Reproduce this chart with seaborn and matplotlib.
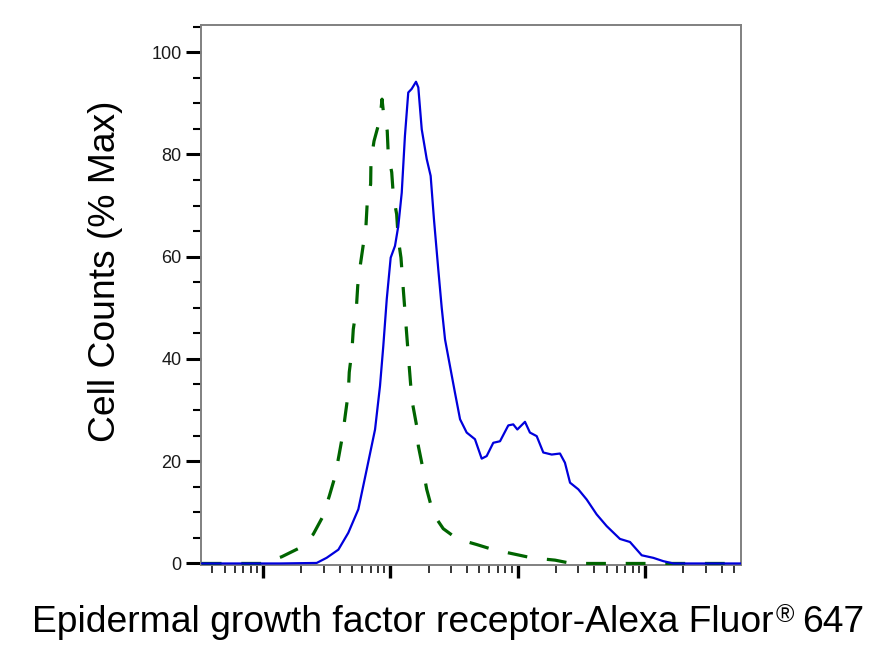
import numpy as np
import pandas as pd
import matplotlib
matplotlib.use("Agg")
import matplotlib.pyplot as plt
import seaborn as sns
from matplotlib.ticker import LogLocator, NullFormatter, MultipleLocator

# ---------------- data ----------------
egfr_intensity = [33, 136, 264, 316, 391, 468, 561, 653, 759, 830,
                  881, 938, 1007, 1089, 1156, 1230, 1303, 1384, 1472, 1592,
                  1660, 1766, 1932, 2075, 2203, 2382, 2535, 2692, 2944, 3221,
                  3532, 3981, 4624, 5224, 5715, 6442, 7278, 8453, 9247, 9954,
                  11430, 12500, 14130, 15920, 18540, 21530, 23550, 25820, 29990, 34910,
                  41780, 50120, 63680, 76380, 94410, 116400, 139600, 167100, 569000]
egfr_pct = [0, 0, 0.1, 1.1, 2.7, 6.0, 10.6, 18.4, 26.2, 34.7,
            42.5, 51.7, 59.8, 62.1, 66.0, 72.5, 83.6, 92.1, 92.8, 94.2,
            93.1, 84.9, 79.1, 75.8, 67.3, 57.5, 50.0, 43.8, 38.6, 33.4,
            28.2, 25.6, 24.3, 20.5, 21.0, 23.6, 23.9, 27.0, 27.2, 26.2,
            27.7, 25.6, 24.9, 21.7, 21.3, 21.5, 19.7, 15.8, 14.5, 12.5,
            9.6, 7.3, 4.8, 4.2, 1.6, 1.1, 0.45, 0, 0]

control_intensity = [33, 98, 140, 189, 248, 294, 332, 368, 395, 423,
                     444, 468, 476, 500, 512, 541, 555, 578, 614, 644,
                     659, 701, 705, 745, 830, 861, 881, 946, 964, 1026,
                     1057, 1122, 1156, 1213, 1265, 1361, 1445, 1500, 1611, 1660,
                     1799, 1932, 2113, 2328, 2606, 3357, 4775, 6442, 9550, 12910,
                     19680, 26610, 569000]
control_pct = [0, 0, 1.3, 2.9, 5.7, 9.1, 13.2, 17.0, 21.1, 25.2,
               29.2, 33.4, 37.4, 41.7, 45.8, 49.8, 54.3, 57.9, 62.4, 66.0,
               70.6, 74.2, 78.7, 82.6, 86.9, 90.8, 88.5, 84.6, 80.0, 76.5,
               71.9, 68.3, 63.4, 59.8, 53.6, 43.2, 35.0, 31.1, 26.9, 23.0,
               18.7, 14.5, 10.9, 8.6, 6.8, 4.8, 3.7, 2.7, 1.8, 1.1,
               0.65, 0, 0]

y_major_ticks = [0, 20, 40, 60, 80, 100]
y_tick_labels = ["0", "20", "40", "60", "80", "100"]
x_label_main = "Epidermal growth factor receptor-Alexa Fluor"
x_label_mark = "\u00ae"
x_label_tail = "647"
y_label = "Cell Counts (% Max)"

# ---------------- style ----------------
sns.set_theme(style="ticks")
plt.rcParams['font.family'] = ['Liberation Sans', 'DejaVu Sans']

W, H = 882, 650
fig = plt.figure(figsize=(W / 100, H / 100), dpi=100)
fig.patch.set_facecolor("white")
ax = fig.add_axes([201 / W, 85 / H, 540 / W, 540 / H])

df_egfr = pd.DataFrame({"intensity": egfr_intensity, "pct": egfr_pct})
df_ctrl = pd.DataFrame({"intensity": control_intensity, "pct": control_pct})

sns.lineplot(data=df_ctrl, x="intensity", y="pct", ax=ax, color="#006400",
             linewidth=2.3, estimator=None, sort=False, zorder=3)
sns.lineplot(data=df_egfr, x="intensity", y="pct", ax=ax, color="#0000dc",
             linewidth=1.6, estimator=None, sort=False, zorder=4)
ax.lines[0].set_dashes((6.2, 6.2))

ax.set_xscale("log")
ax.set_xlim(10 ** 1.513, 10 ** 5.755)
ax.set_ylim(-0.3, 105.3)

ax.xaxis.set_major_locator(LogLocator(base=10, numticks=20))
ax.xaxis.set_minor_locator(LogLocator(base=10, subs=np.arange(2, 10), numticks=20))
ax.xaxis.set_major_formatter(NullFormatter())
ax.xaxis.set_minor_formatter(NullFormatter())
ax.set_yticks(y_major_ticks)
ax.set_yticklabels(y_tick_labels)
ax.yaxis.set_minor_locator(MultipleLocator(5))

ax.tick_params(axis="x", which="major", length=9.5, width=2.4, color="black",
               direction="out", bottom=True, labelbottom=False)
ax.tick_params(axis="x", which="minor", length=5.5, width=1.1, color="black",
               direction="out", bottom=True)
ax.tick_params(axis="y", which="major", length=11, width=2.2, color="black",
               direction="out", left=True, pad=3, labelsize=13, labelcolor="#1a1a1a")
ax.tick_params(axis="y", which="minor", length=5.5, width=1.5, color="black",
               direction="out", left=True)

for s in ax.spines.values():
    s.set_visible(True)
    s.set_color("#808080")
    s.set_linewidth(1.4)

ax.set_xlabel("")
ax.set_ylabel("")

# axis titles
fs = 26.8
fig.text(115 / W, 1 - 271 / H, y_label, rotation=90, rotation_mode="anchor",
         ha="center", va="baseline", fontsize=fs, color="black")

renderer = fig.canvas.get_renderer()
base_y = 1 - 632 / H
t1 = fig.text(32 / W, base_y, x_label_main, ha="left", va="baseline",
              fontsize=fs, color="black")
bb1 = t1.get_window_extent(renderer)
t2 = fig.text((bb1.x1 + 2) / W, 1 - 622 / H, x_label_mark, ha="left",
              va="baseline", fontsize=18, color="black")
bb2 = t2.get_window_extent(renderer)
fig.text((bb2.x1 + 8) / W, base_y, x_label_tail, ha="left", va="baseline",
         fontsize=fs, color="black")

fig.savefig("out.png", dpi=100, facecolor="white")
